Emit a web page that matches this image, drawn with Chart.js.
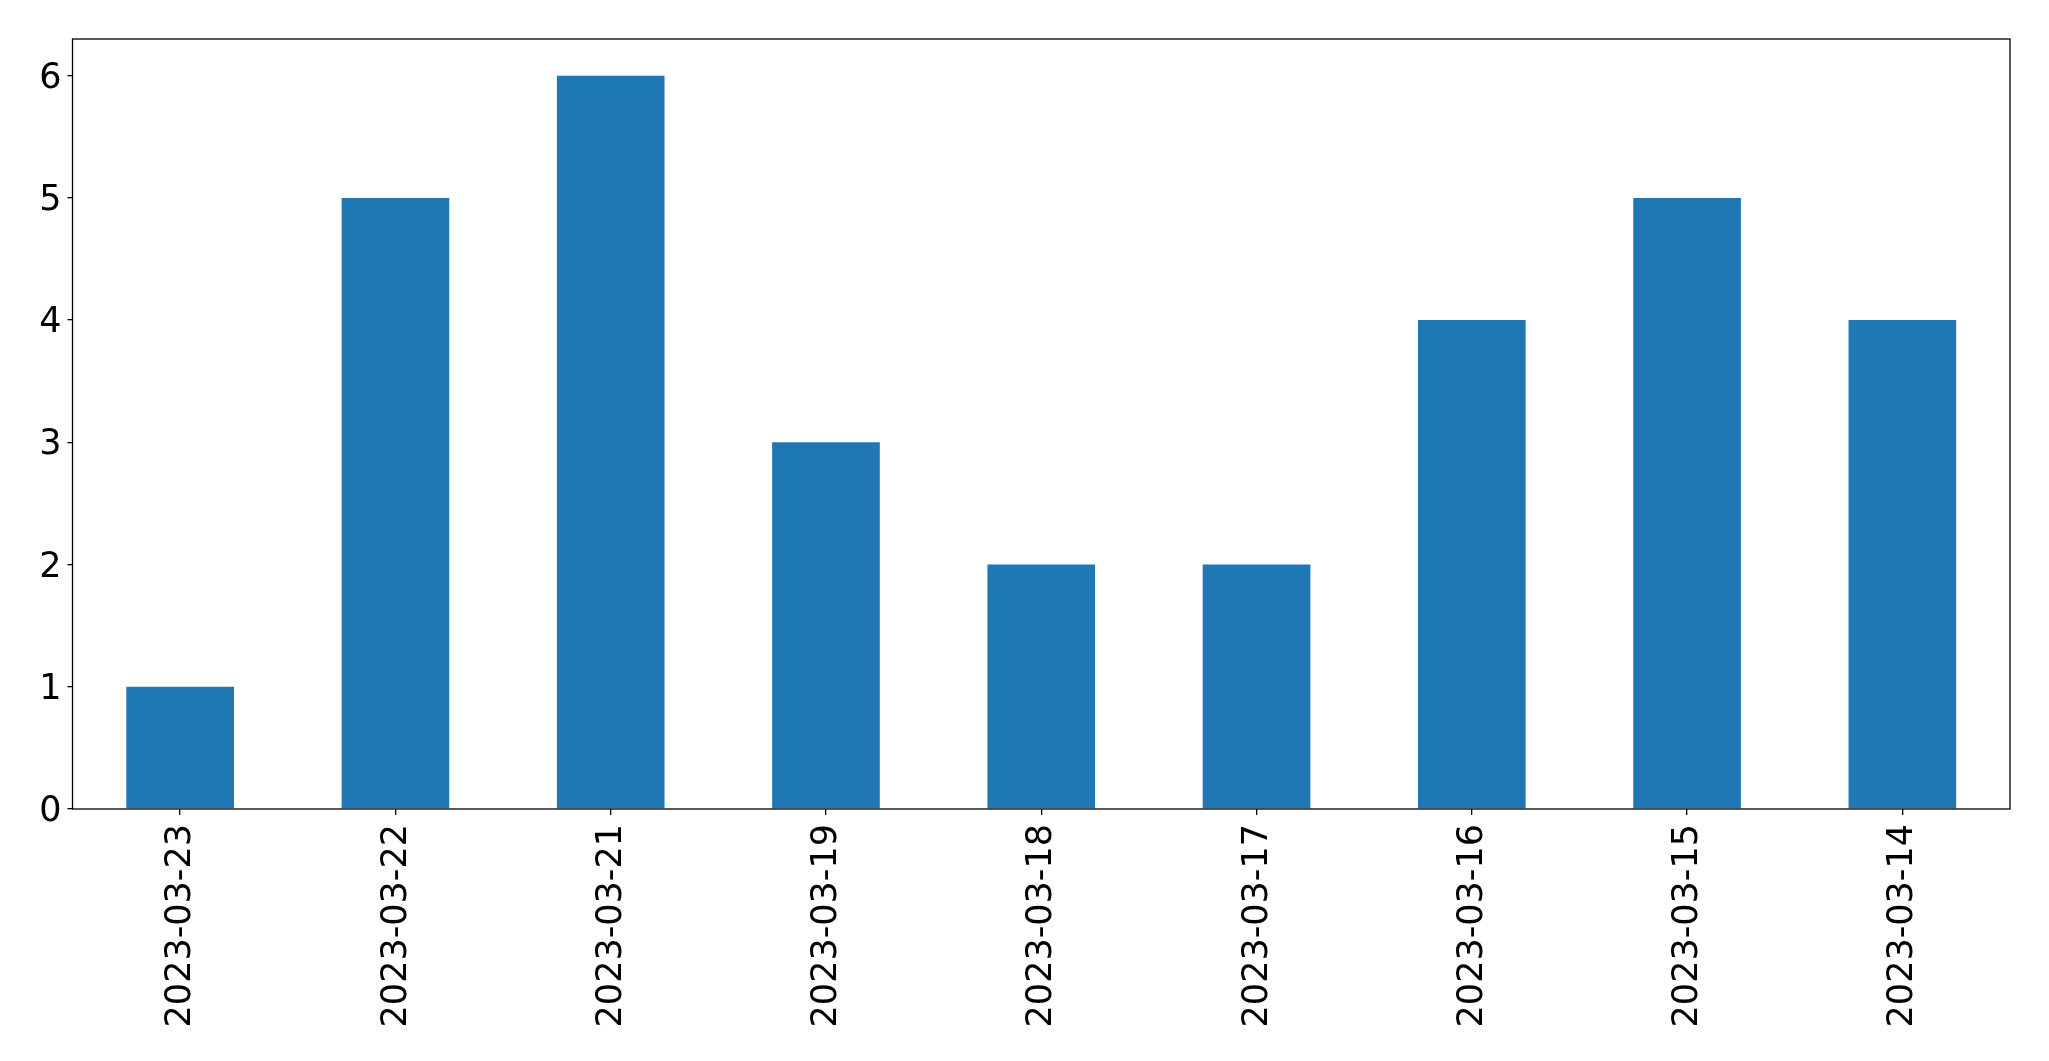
<!DOCTYPE html>
<html>
<head>
<meta charset="utf-8">
<script src="https://cdn.jsdelivr.net/npm/chart.js@4.4.0/dist/chart.umd.min.js"></script>
<style>
html,body{margin:0;padding:0;background:#fff;}
canvas{display:block;}
</style>
</head>
<body>
<canvas id="c" width="2049" height="1061"></canvas>
<script>
const categories = ['2023-03-23','2023-03-22','2023-03-21','2023-03-19','2023-03-18','2023-03-17','2023-03-16','2023-03-15','2023-03-14'];
const values = [1,5,6,3,2,2,4,5,4];
const yTicks = [0,1,2,3,4,5,6];

const FONT = {family: 'DejaVu Sans', size: 35};

const framePlugin = {
  id: 'frame',
  afterDraw(chart) {
    const a = chart.chartArea, ctx = chart.ctx;
    ctx.save();
    ctx.strokeStyle = '#000';
    ctx.lineWidth = 1.3;
    ctx.strokeRect(a.left, a.top, a.right - a.left, a.bottom - a.top);
    ctx.restore();
  }
};

new Chart(document.getElementById('c'), {
  type: 'bar',
  data: {
    labels: categories,
    datasets: [{
      data: values,
      backgroundColor: '#1f77b4',
      borderWidth: 0,
      barPercentage: 0.5,
      categoryPercentage: 1.0
    }]
  },
  options: {
    responsive: false,
    devicePixelRatio: 1,
    animation: false,
    layout: {padding: {left: 0, top: 39, right: 39, bottom: 0}},
    plugins: {legend: {display: false}, tooltip: {enabled: false}},
    scales: {
      x: {
        offset: true,
        grid: {offset: false, drawOnChartArea: false, drawTicks: true, tickLength: 6, color: '#000', lineWidth: 1.3},
        border: {display: false},
        ticks: {color: '#000', font: FONT, maxRotation: 90, minRotation: 90, padding: 9, labelOffset: 1, autoSkip: false},
        afterFit(s) { s.height = 1061 - 809; }
      },
      y: {
        min: 0,
        max: 6.3,
        grid: {drawOnChartArea: false, drawTicks: true, tickLength: 5, color: '#000', lineWidth: 1.3},
        border: {display: false},
        ticks: {
          color: '#000', font: FONT, stepSize: 1, includeBounds: false, padding: 6, labelOffset: 3,
          callback: (v) => yTicks.includes(v) ? String(v) : ''
        },
        afterFit(s) { s.width = 72.5; }
      }
    }
  },
  plugins: [framePlugin]
});
</script>
</body>
</html>
